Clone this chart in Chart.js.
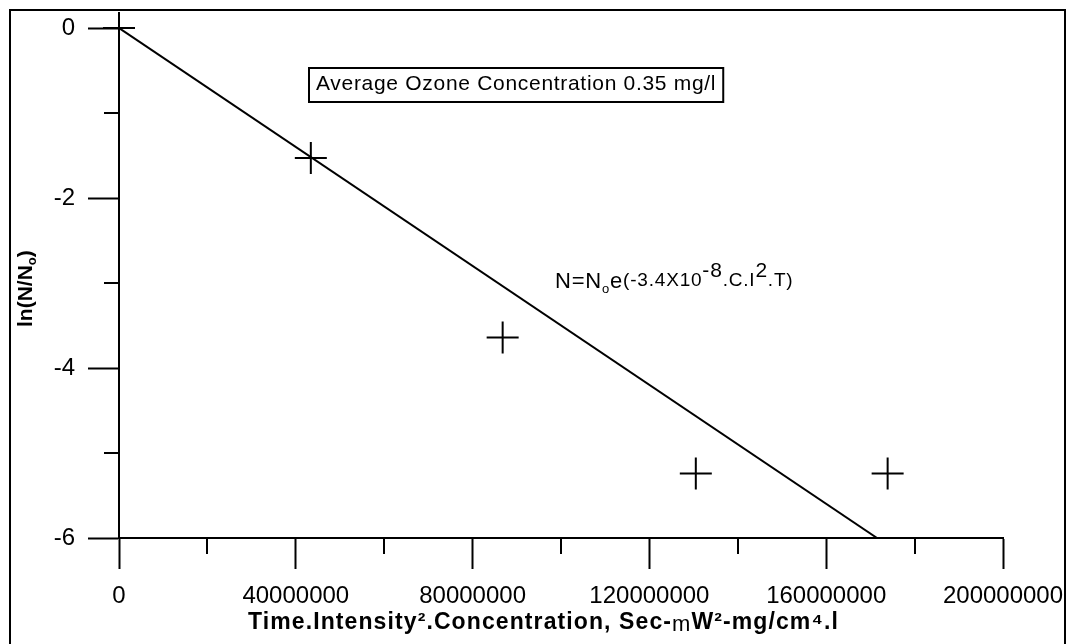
<!DOCTYPE html>
<html>
<head>
<meta charset="utf-8">
<script src="https://cdn.jsdelivr.net/npm/chart.js@4"></script>
<style>
html,body{margin:0;padding:0;background:#fff;}
#wrap{width:1073px;height:644px;}
</style>
</head>
<body>
<div id="wrap"><canvas id="c" width="1073" height="644"></canvas></div>
<script>
// ---- data ----
const obsX = [0, 43400000, 86800000, 130500000, 173900000];
const obsY = [0, -1.53, -3.64, -5.24, -5.24];
const fitX = [0, 171500000];
const fitY = [0, -6];
const xTicks = [0, 40000000, 80000000, 120000000, 160000000, 200000000];
const yTicks = [0, -2, -4, -6];
const xMinor = [20000000, 60000000, 100000000, 140000000, 180000000];
const yMinor = [-1, -3, -5];
const xTitleParts = ['Time.Intensity².Concentration, Sec-', 'm', 'W²-mg/cm⁴.l'];
const boxText = 'Average Ozone Concentration 0.35 mg/l';

const FONT = "'Liberation Sans', Arial, sans-serif";

const obsData = obsX.map((x, i) => ({x: x, y: obsY[i]}));
const fitData = fitX.map((x, i) => ({x: x, y: fitY[i]}));

function setSpacing(ctx, px) { if ('letterSpacing' in ctx) ctx.letterSpacing = px + 'px'; }

const decor = {
  id: 'decor',
  afterDraw(chart) {
    const ctx = chart.ctx;
    const xs = chart.scales.x, ys = chart.scales.y;
    const ca = chart.chartArea;
    ctx.save();
    ctx.strokeStyle = '#000';
    ctx.fillStyle = '#000';
    ctx.lineWidth = 2;
    // outer frame (left, top, right)
    ctx.beginPath();
    ctx.moveTo(10, 650); ctx.lineTo(10, 10); ctx.lineTo(1065, 10); ctx.lineTo(1065, 650);
    ctx.stroke();
    // minor ticks
    ctx.beginPath();
    xMinor.forEach(v => {
      const px = Math.round(xs.getPixelForValue(v));
      ctx.moveTo(px, ca.bottom); ctx.lineTo(px, ca.bottom + 16);
    });
    yMinor.forEach(v => {
      const py = Math.round(ys.getPixelForValue(v));
      ctx.moveTo(ca.left - 15, py); ctx.lineTo(ca.left, py);
    });
    ctx.stroke();

    ctx.textBaseline = 'alphabetic';
    ctx.textAlign = 'left';

    // y-axis title with subscript
    ctx.save();
    ctx.translate(32, 327);
    ctx.rotate(-Math.PI / 2);
    ctx.font = 'bold 21px ' + FONT;
    let t1 = 'ln(N/N';
    ctx.fillText(t1, 0, 0);
    let w = ctx.measureText(t1).width;
    ctx.font = 'bold 13px ' + FONT;
    ctx.fillText('o', w, 4);
    w += ctx.measureText('o').width;
    ctx.font = 'bold 21px ' + FONT;
    ctx.fillText(')', w, 0);
    ctx.restore();

    // x-axis title (bold, with a regular "m")
    ctx.save();
    setSpacing(ctx, 1.1);
    let tx = 248;
    const fonts = ['bold 23px ' + FONT, '22px ' + FONT, 'bold 23px ' + FONT];
    xTitleParts.forEach((p, i) => {
      ctx.font = fonts[i];
      ctx.fillText(p, tx, i === 1 ? 631 : 629);
      tx += ctx.measureText(p).width;
    });
    ctx.restore();

    // annotation box
    ctx.save();
    ctx.font = '21px ' + FONT;
    setSpacing(ctx, 0.7);
    const tw = ctx.measureText(boxText).width;
    ctx.fillText(boxText, 316, 90);
    ctx.restore();
    ctx.lineWidth = 2;
    ctx.strokeRect(309, 68, tw + 14, 34);

    // equation
    ctx.save();
    setSpacing(ctx, 0.8);
    let x = 555;
    const parts = [
      {t: 'N=N', s: 22, y: 288},
      {t: 'o', s: 13, y: 293},
      {t: 'e', s: 22, y: 288},
      {t: '(-3.4X10', s: 19, y: 286},
      {t: '-8', s: 21, y: 277},
      {t: '.C.I', s: 19, y: 286},
      {t: '2', s: 21, y: 277},
      {t: '.T)', s: 19, y: 286}
    ];
    parts.forEach(p => {
      ctx.font = p.s + 'px ' + FONT;
      ctx.fillText(p.t, x, p.y);
      x += ctx.measureText(p.t).width;
    });
    ctx.restore();
    ctx.restore();
  }
};

new Chart(document.getElementById('c'), {
  type: 'scatter',
  data: {
    datasets: [
      {
        type: 'line',
        data: fitData,
        borderColor: '#000',
        borderWidth: 2,
        pointRadius: 0,
        fill: false,
        tension: 0
      },
      {
        type: 'scatter',
        data: obsData,
        pointStyle: 'cross',
        pointRadius: 16,
        pointHoverRadius: 16,
        borderColor: '#000',
        backgroundColor: '#000',
        pointBorderWidth: 2,
        borderWidth: 2,
        clip: false
      }
    ]
  },
  options: {
    responsive: false,
    animation: false,
    devicePixelRatio: 1,
    layout: {padding: {top: 28, right: 70, left: 0, bottom: 0}},
    plugins: {legend: {display: false}, tooltip: {enabled: false}},
    scales: {
      x: {
        type: 'linear',
        min: 0, max: 200000000,
        afterFit(s) { s.height = 106; s.paddingLeft = 0; s.paddingRight = 0; },
        afterBuildTicks(s) { s.ticks = xTicks.map(v => ({value: v})); },
        border: {display: true, color: '#000', width: 2},
        grid: {display: true, drawOnChartArea: false, drawTicks: true, tickLength: 31, tickWidth: 2, tickColor: '#000'},
        ticks: {
          color: '#000', padding: 13, maxRotation: 0, autoSkip: false,
          font: {family: FONT, size: 24},
          callback: v => String(v)
        },
        title: {display: false}
      },
      y: {
        type: 'linear',
        min: -6, max: 0,
        afterFit(s) { s.width = 119; s.paddingTop = 0; s.paddingBottom = 0; },
        afterBuildTicks(s) { s.ticks = yTicks.map(v => ({value: v})); },
        border: {display: true, color: '#000', width: 2},
        grid: {display: true, drawOnChartArea: false, drawTicks: true, tickLength: 31, tickWidth: 2, tickColor: '#000'},
        ticks: {
          color: '#000', padding: 13, autoSkip: false,
          font: {family: FONT, size: 24},
          callback: v => String(v)
        }
      }
    }
  },
  plugins: [decor]
});
</script>
</body>
</html>
